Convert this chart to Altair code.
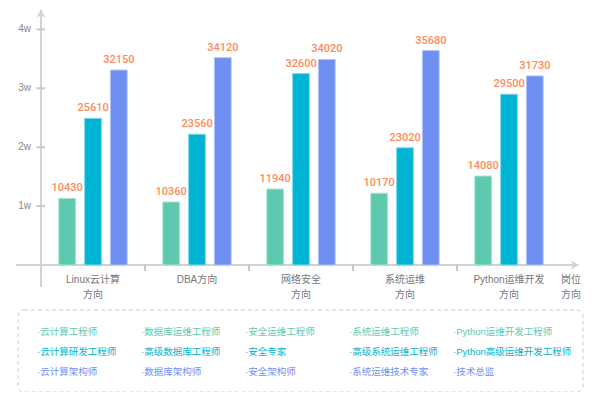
import altair as alt
import pandas as pd

# ---- data ----
categories = ["Linux云计算|方向", "DBA方向", "网络安全|方向", "系统运维|方向", "Python运维开发|方向"]
series = ["初级", "中级", "高级"]
green_heights = [11300, 10700, 12900, 12200, 15100]
teal_heights = [24900, 22200, 32500, 19900, 29000]
blue_heights = [33100, 35200, 34900, 36400, 32100]
green_labels = [10430, 10360, 11940, 10170, 14080]
teal_labels = [25610, 23560, 32600, 23020, 29500]
blue_labels = [32150, 34120, 34020, 35680, 31730]
y_ticks = [10000, 20000, 30000, 40000]
y_tick_labels = ["1w", "2w", "3w", "4w"]
x_title = "岗位|方向"
legend_row1 = ["·云计算工程师", "·数据库运维工程师", "·安全运维工程师", "·系统运维工程师", "·Python运维开发工程师"]
legend_row2 = ["·云计算研发工程师", "·高级数据库工程师", "·安全专家", "·高级系统运维工程师", "·Python高级运维开发工程师"]
legend_row3 = ["·云计算架构师", "·数据库架构师", "·安全架构师", "·系统运维技术专家", "·技术总监"]

colors = ["#5ec9ad", "#00b4d4", "#6f8ff2"]
edge_colors = ["#a8e4d2", "#80d8ea", "#b3c4f8"]
label_color = "#ff8a5b"
axis_color = "#d2d2d2"
FONT = "Liberation Sans, Noto Sans CJK SC"

rows = []
for i, c in enumerate(categories):
    for s, h, l in zip(series, [green_heights, teal_heights, blue_heights],
                       [green_labels, teal_labels, blue_labels]):
        rows.append({"category": c, "series": s, "height": h[i], "label": l[i]})
df = pd.DataFrame(rows)

xscale = alt.Scale(domain=categories, paddingInner=0, paddingOuter=0)
yscale = alt.Scale(domain=[0, 43120], nice=False)
offscale = alt.Scale(domain=series, paddingInner=0.35, paddingOuter=0.69)

bars = alt.Chart(df).mark_bar(strokeWidth=1).encode(
    x=alt.X("category:N", sort=categories, scale=xscale, axis=None),
    xOffset=alt.XOffset("series:N", sort=series, scale=offscale),
    y=alt.Y("height:Q", scale=yscale, axis=None),
    color=alt.Color("series:N", sort=series,
                    scale=alt.Scale(domain=series, range=colors), legend=None),
    stroke=alt.Stroke("series:N", sort=series,
                      scale=alt.Scale(domain=series, range=edge_colors), legend=None),
)

labels = alt.Chart(df).mark_text(
    fontSize=11, fontWeight=500, color=label_color, font="Roboto, Liberation Sans",
    baseline="alphabetic", dy=-7
).encode(
    x=alt.X("category:N", sort=categories, scale=xscale, axis=None),
    xOffset=alt.XOffset("series:N", sort=series, scale=offscale),
    y=alt.Y("height:Q", scale=yscale, axis=None),
    text=alt.Text("label:Q", format="d"),
)

one = pd.DataFrame({"k": [0]})

y_axis_line = alt.Chart(one).mark_rule(color=axis_color, strokeWidth=2).encode(
    x=alt.value(0), y=alt.value(-1), y2=alt.value(276))
x_axis_line = alt.Chart(one).mark_rule(color=axis_color, strokeWidth=2).encode(
    x=alt.value(-25), x2=alt.value(535), y=alt.value(254))

up_arrow = alt.Chart(one).mark_point(
    shape="M0,-1L0.85,0.6L0,0.2L-0.85,0.6Z", filled=True, size=110,
    color=axis_color, opacity=1).encode(x=alt.value(0), y=alt.value(3.5))
right_arrow = alt.Chart(one).mark_point(
    shape="M1,0L-0.6,-0.85L-0.2,0L-0.6,0.85Z", filled=True, size=110,
    color=axis_color, opacity=1).encode(x=alt.value(533), y=alt.value(254))

ytick_df = pd.DataFrame({"v": y_ticks, "t": y_tick_labels})
y_tick_marks = alt.Chart(ytick_df).mark_rule(color="#c8c8c8", strokeWidth=2).encode(
    y=alt.Y("v:Q", scale=yscale, axis=None), x=alt.value(-4.5), x2=alt.value(4))
y_tick_text = alt.Chart(ytick_df).mark_text(
    align="right", baseline="middle", fontSize=10, color="#888", font=FONT).encode(
    y=alt.Y("v:Q", scale=yscale, axis=None), x=alt.value(-10), text="t:N")

sep_df = pd.DataFrame({"category": categories[1:]})
x_seps = alt.Chart(sep_df).mark_rule(color="#c8c8c8", strokeWidth=2).encode(
    x=alt.X("category:N", sort=categories, scale=xscale, axis=None, bandPosition=0),
    y=alt.value(253), y2=alt.value(260))

cat_df = pd.DataFrame({"category": categories})
x_label_text = alt.Chart(cat_df).mark_text(
    align="center", baseline="middle", fontSize=10, color="#777", font=FONT,
    lineBreak="|", lineHeight=15).encode(
    x=alt.X("category:N", sort=categories, scale=xscale, axis=None),
    y=alt.value(269), text="category:N")

x_title_text = alt.Chart(pd.DataFrame({"t": [x_title]})).mark_text(
    align="center", baseline="middle", fontSize=10, color="#777", font=FONT,
    lineBreak="|", lineHeight=15).encode(
    x=alt.value(530), y=alt.value(269), text="t:N")

legend_box = alt.Chart(one).mark_rect(
    fill="white", fillOpacity=0, stroke="#cccccc", strokeDash=[4, 3],
    strokeWidth=1, cornerRadius=6).encode(
    x=alt.value(-23), x2=alt.value(542), y=alt.value(299), y2=alt.value(381))

legend_layers = []
for texts, col, ry in zip([legend_row1, legend_row2, legend_row3], colors, [321, 341, 361]):
    ldf = pd.DataFrame({"category": categories, "text": texts})
    legend_layers.append(
        alt.Chart(ldf).mark_text(align="left", baseline="middle", fontSize=9.5,
                                 font=FONT, color=col, dx=-4).encode(
            x=alt.X("category:N", sort=categories, scale=xscale, axis=None, bandPosition=0),
            y=alt.value(ry),
            text="text:N"))

chart = alt.layer(
    y_axis_line, x_axis_line, up_arrow, right_arrow, y_tick_marks, y_tick_text,
    x_seps, x_label_text, x_title_text,
    bars, labels, legend_box, *legend_layers
).properties(
    width=520, height=254,
    autosize=alt.AutoSizeParams(type="none"),
    padding={"left": 33, "top": 3, "right": 31, "bottom": 127},
    background="white",
).configure_view(stroke=None)

chart.save("out.html", embed_options={"renderer": "svg", "actions": False})
